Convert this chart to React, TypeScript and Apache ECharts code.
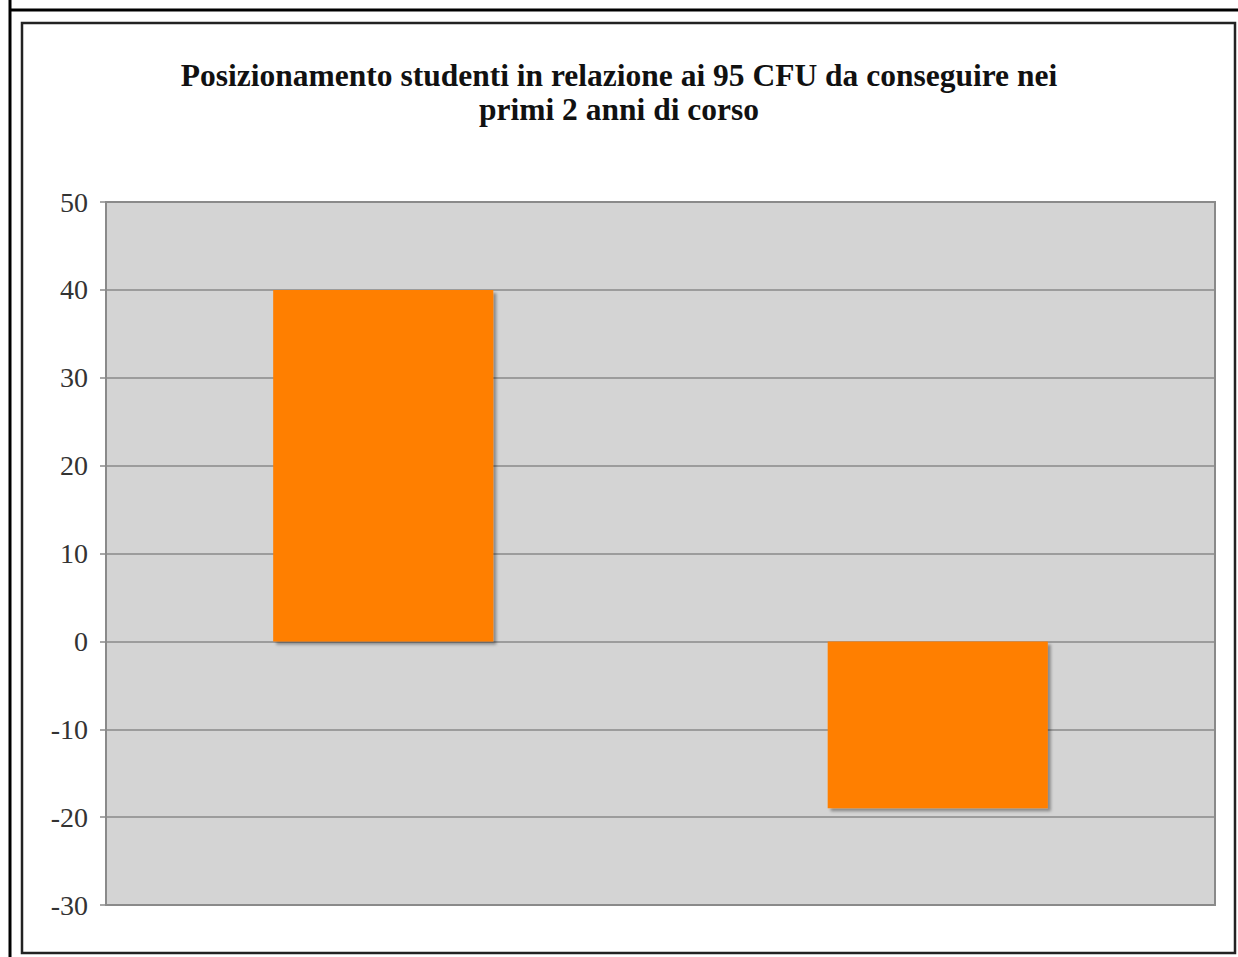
import React, { useEffect, useRef } from "react";
import * as echarts from "echarts";

const titleText = "Posizionamento studenti in relazione ai 95 CFU da conseguire nei\nprimi 2 anni di corso";
const categories = ["Sopra la soglia", "Sotto la soglia"];
const values = [40, -19];
const yMin = -30;
const yMax = 50;
const yInterval = 10;

export default function App() {
  const ref = useRef<HTMLDivElement>(null);
  useEffect(() => {
    if (!ref.current) return;
    const chart = echarts.init(ref.current, undefined, { renderer: "svg" });
    chart.setOption({
      animation: false,
      backgroundColor: "#ffffff",
      title: {
        text: titleText,
        left: "center",
        top: 53,
        textStyle: {
          fontFamily: "Liberation Serif",
          fontWeight: "bold",
          fontSize: 31.5,
          color: "#111",
          lineHeight: 34,
        },
      },
      graphic: [
        { type: "line", shape: { x1: 10, y1: 0, x2: 10, y2: 957 }, style: { stroke: "#000", lineWidth: 3 } },
        { type: "line", shape: { x1: 10, y1: 10, x2: 1238, y2: 10 }, style: { stroke: "#000", lineWidth: 3 } },
        { type: "rect", shape: { x: 22, y: 23, width: 1213, height: 930 }, style: { fill: "none", stroke: "#222", lineWidth: 2.5 } },
      ],
      grid: {
        left: 106,
        top: 202,
        width: 1109,
        height: 703,
        show: true,
        backgroundColor: "#d4d4d4",
        borderColor: "#8a8a8a",
        borderWidth: 2,
      },
      xAxis: {
        type: "category",
        data: categories,
        axisLine: { show: false },
        axisTick: { show: false },
        axisLabel: { show: false },
        splitLine: { show: false },
      },
      yAxis: {
        type: "value",
        min: yMin,
        max: yMax,
        interval: yInterval,
        axisLine: { show: true, lineStyle: { color: "#8a8a8a", width: 2 } },
        axisTick: { show: true, length: 6, lineStyle: { color: "#8a8a8a", width: 1.5 } },
        axisLabel: {
          margin: 18,
          fontFamily: "Liberation Serif",
          fontSize: 28,
          color: "#333",
        },
        splitLine: { show: true, lineStyle: { color: "#8a8a8a", width: 1.5 } },
      },
      series: [
        {
          type: "bar",
          data: values,
          barWidth: "39.7%",
          itemStyle: {
            color: "#ff7f00",
            shadowColor: "rgba(0,0,0,0.35)",
            shadowBlur: 3,
            shadowOffsetX: 3,
            shadowOffsetY: 3,
          },
        },
      ],
    });
    return () => chart.dispose();
  }, []);
  return (
    <div
      ref={ref}
      style={{ position: "absolute", left: 0, top: 0, width: 1238, height: 957 }}
    />
  );
}
